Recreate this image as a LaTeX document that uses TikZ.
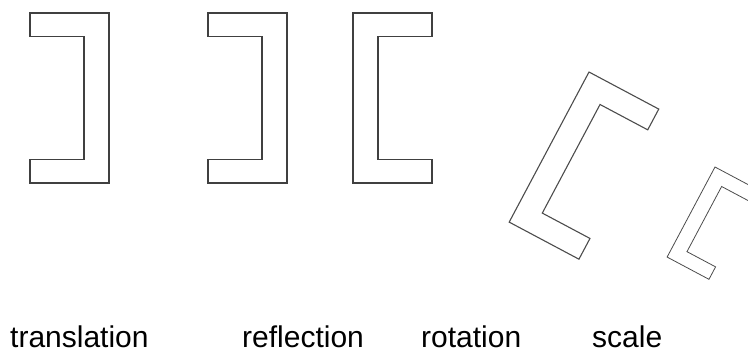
\documentclass[tikz,border=0pt]{standalone}
\usepackage{fontspec}
\setmainfont{Liberation Sans}
\usepackage{tikz}
\usetikzlibrary{positioning}
\tikzset{
  outline/.style={draw=black!75, line width=1.4pt, line join=miter},
  thinOutline/.style={draw=black!70, line width=1.1pt, line join=miter},
  caption/.style={anchor=base west, inner sep=0pt, font=\fontsize{30}{36}\selectfont},
  bracket/.pic={\draw[pic actions] (0,0) -- (79,0) -- (79,23.5) -- (25,23.5) -- (25,146.5) -- (79,146.5) -- (79,170) -- (0,170) -- cycle;},
}

\begin{document}
\begin{tikzpicture}[x=1pt, y=-1pt]
\useasboundingbox (0,0) rectangle (748,354);
\clip (0,0) rectangle (748,354);
% the four copies of the bracket
\pic[outline, xscale=-1] (trans) at (109,13) {bracket};
\pic[outline, xscale=-1] (refl) at (287,13) {bracket};
\pic[outline] (orig) at (353,13) {bracket};
\pic[thinOutline, rotate=-28] (rot) at (589,72) {bracket};
\pic[thinOutline, line width=0.8pt, rotate=-28, scale=0.6] (scl) at (715,167) {bracket};
% labels
\node (tTrans) [caption] at (10,347.5) {translation};
\node (tRefl) [caption] at (242,347.5) {reflection};
\node (tRot) [caption] at (421,347.5) {rotation};
\node (tScale) [caption] at (592,347.5) {scale};
\end{tikzpicture}
\end{document}
